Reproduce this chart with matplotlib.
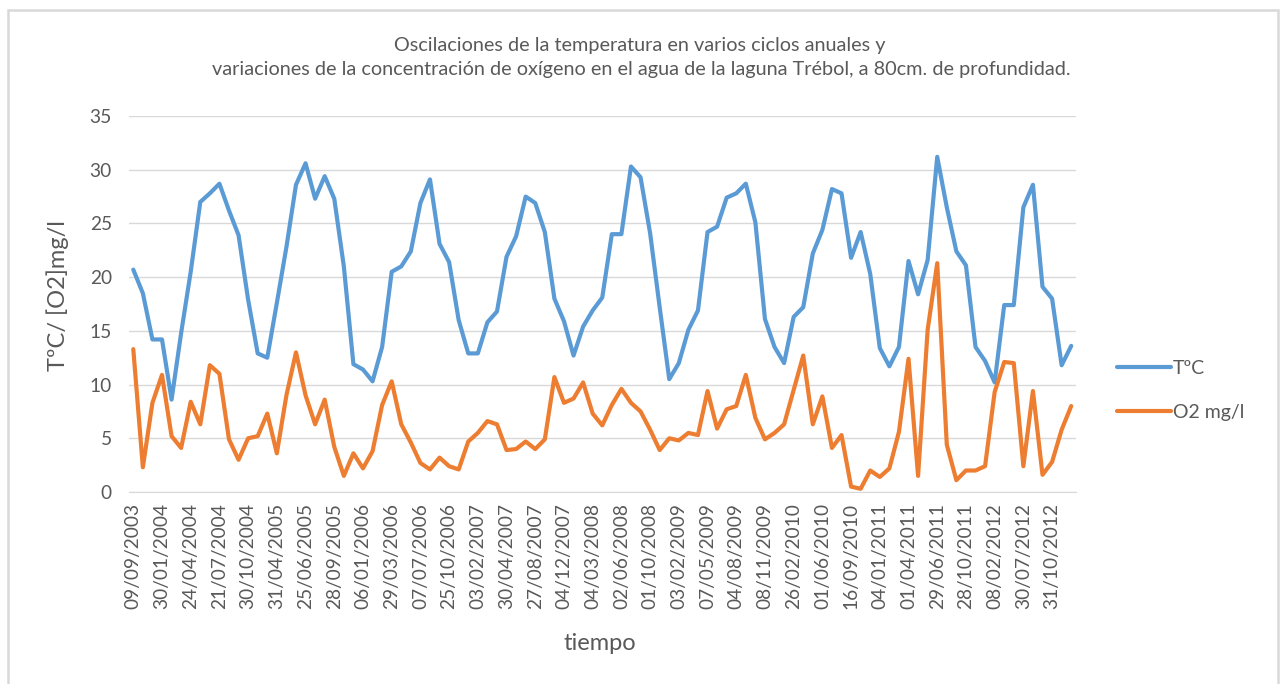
import numpy as np
import matplotlib
matplotlib.use("Agg")
import matplotlib.pyplot as plt
from matplotlib.patches import Rectangle

plt.rcParams['font.family'] = ['Lato', 'DejaVu Sans']

temperatura = [20.7, 18.5, 14.2, 14.2, 8.6, 14.8, 20.5, 27.0, 27.8, 28.7,
               26.2, 23.9, 17.9, 12.9, 12.5, 17.6, 22.8, 28.6, 30.6, 27.3,
               29.4, 27.3, 21.0, 11.9, 11.4, 10.3, 13.5, 20.5, 21.0, 22.4,
               26.9, 29.1, 23.1, 21.4, 16.0, 12.9, 12.9, 15.8, 16.8, 21.9,
               23.8, 27.5, 26.9, 24.2, 18.0, 15.9, 12.7, 15.4, 16.9, 18.1,
               24.0, 24.0, 30.3, 29.3, 24.1, 17.2, 10.5, 12.0, 15.1, 16.9,
               24.2, 24.7, 27.4, 27.8, 28.7, 25.1, 16.1, 13.5, 12.0, 16.3,
               17.2, 22.2, 24.4, 28.2, 27.8, 21.8, 24.2, 20.3, 13.4, 11.7,
               13.5, 21.5, 18.4, 21.6, 31.2, 26.5, 22.4, 21.1, 13.5, 12.2,
               10.2, 17.4, 17.4, 26.5, 28.6, 19.1, 18.0, 11.8, 13.6]

oxigeno = [13.3, 2.3, 8.3, 10.9, 5.2, 4.1, 8.4, 6.3, 11.8, 11.0,
           4.9, 3.0, 5.0, 5.2, 7.3, 3.6, 9.0, 13.0, 9.0, 6.3,
           8.6, 4.2, 1.5, 3.6, 2.2, 3.8, 8.1, 10.3, 6.3, 4.6,
           2.7, 2.1, 3.2, 2.4, 2.1, 4.7, 5.5, 6.6, 6.3, 3.9,
           4.0, 4.7, 4.0, 4.9, 10.7, 8.3, 8.7, 10.2, 7.3, 6.2,
           8.1, 9.6, 8.3, 7.5, 5.8, 3.9, 5.0, 4.8, 5.5, 5.3,
           9.4, 5.9, 7.7, 8.0, 10.9, 6.9, 4.9, 5.5, 6.3, 9.5,
           12.7, 6.3, 8.9, 4.1, 5.3, 0.5, 0.3, 2.0, 1.4, 2.2,
           5.6, 12.4, 1.5, 15.1, 21.3, 4.4, 1.1, 2.0, 2.0, 2.4,
           9.3, 12.1, 12.0, 2.4, 9.4, 1.6, 2.8, 5.8, 8.0]

fechas = ["09/09/2003", "30/01/2004", "24/04/2004", "21/07/2004", "30/10/2004",
          "31/04/2005", "25/06/2005", "28/09/2005", "06/01/2006", "29/03/2006",
          "07/07/2006", "25/10/2006", "03/02/2007", "30/04/2007", "27/08/2007",
          "04/12/2007", "04/03/2008", "02/06/2008", "01/10/2008", "03/02/2009",
          "07/05/2009", "04/08/2009", "08/11/2009", "26/02/2010", "01/06/2010",
          "16/09/2010", "04/01/2011", "01/04/2011", "29/06/2011", "28/10/2011",
          "08/02/2012", "30/07/2012", "31/10/2012"]

gris = '#595959'
W, H = 1284, 684
fig = plt.figure(figsize=(W / 100, H / 100), dpi=100)
fig.patches.append(Rectangle((7.5 / W, -0.05), (1278 - 7.5) / W, 1.05 - 10 / H,
                             transform=fig.transFigure, fill=False,
                             edgecolor='#D9D9D9', linewidth=1.8))

ax = fig.add_axes([128.5 / W, 1 - 492 / H, (1076 - 128.5) / W, (492 - 116) / H])
x = np.arange(len(temperatura))
ax.plot(x, temperatura, color='#5B9BD5', linewidth=3.0, label='TºC',
        solid_joinstyle='round', solid_capstyle='round')
ax.plot(x, oxigeno, color='#ED7D31', linewidth=3.0, label='O2 mg/l',
        solid_joinstyle='round', solid_capstyle='round')

ax.set_xlim(-0.5, len(temperatura) - 0.5)
ax.set_ylim(0, 35)
ax.set_yticks(range(0, 36, 5))
ax.set_xticks(range(0, len(temperatura), 3))
ax.set_xticklabels(fechas, rotation=90)
ax.tick_params(length=0, labelsize=13.8, labelcolor=gris)
ax.tick_params(axis='y', pad=12)
ax.tick_params(axis='x', pad=8)
ax.grid(axis='y', color='#D9D9D9', linewidth=1)
ax.set_axisbelow(True)
for s in ['top', 'right', 'left']:
    ax.spines[s].set_visible(False)
ax.spines['bottom'].set_color('#D9D9D9')

fig.text(600 / W, 1 - 643 / H, 'tiempo', fontsize=17, color=gris,
         ha='center', va='center')
fig.text(58 / W, 1 - 296 / H, 'TºC/ [O2]mg/l', fontsize=17, color=gris,
         ha='center', va='center', rotation=90)
fig.text(640 / W, 1 - 45 / H, 'Oscilaciones de la temperatura en varios ciclos anuales y',
         fontsize=14.3, color=gris, ha='center', va='center')
fig.text(641 / W, 1 - 70 / H,
         'variaciones de la concentración de oxígeno en el agua de la laguna Trébol, a 80cm. de profundidad.',
         fontsize=14.3, color=gris, ha='center', va='center')

fig.legend(loc='upper left', bbox_to_anchor=(1099 / W, 1 - 342 / H), frameon=False,
           fontsize=14, labelcolor=gris, handlelength=2.8, handletextpad=0.1,
           labelspacing=1.4)

fig.savefig('out.png', dpi=100, facecolor='white')
